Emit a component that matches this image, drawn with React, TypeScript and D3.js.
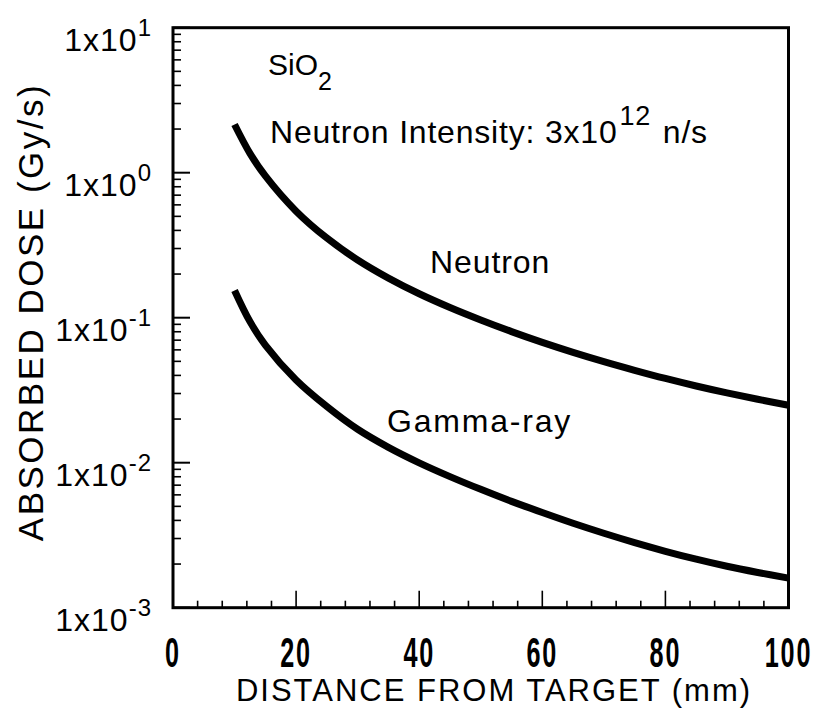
import React from "react";
import * as d3 from "d3";

// Distance from the target (mm)
const neutronDistance = [10, 12.5, 15, 20, 25, 30, 35, 40, 45, 50, 55, 60, 65, 70, 75, 80, 85, 90, 95, 100];
// Neutron absorbed dose rate in SiO2 (Gy/s)
const neutronDose = [2.15, 1.36, 0.95, 0.543, 0.354, 0.25, 0.1875, 0.1462, 0.1175, 0.0964, 0.0802, 0.0676, 0.0577, 0.0498, 0.0434, 0.0381, 0.0338, 0.0303, 0.0274, 0.0249];

const gammaDistance = [10, 12.5, 15, 20, 25, 30, 35, 40, 45, 50, 55, 60, 65, 70, 75, 80, 85, 90, 95, 100];
// Gamma-ray absorbed dose rate in SiO2 (Gy/s)
const gammaDose = [0.154, 0.094, 0.0648, 0.0372, 0.0244, 0.017, 0.01276, 0.00998, 0.00802, 0.00655, 0.00541, 0.00453, 0.00382, 0.00326, 0.00281, 0.00245, 0.00216, 0.00193, 0.00175, 0.0016];

const xTickLabels = [0, 20, 40, 60, 80, 100];
const yDecadeExponents = [1, 0, -1, -2, -3];

const FONT = "'Liberation Sans', Arial, Helvetica, sans-serif";

export default function App() {
  const width = 816;
  const height = 710;
  const left = 173;
  const right = 788.5;
  const top = 27.7;
  const bottom = 607.7;

  const x = d3.scaleLinear().domain([0, 100]).range([left, right]);
  const y = d3.scaleLog().domain([1e-3, 1e1]).range([bottom, top]);

  const line = d3
    .line<[number, number]>()
    .x((d) => x(d[0]))
    .y((d) => y(d[1]))
    .curve(d3.curveCatmullRom.alpha(0.5));

  const neutronPath = line(neutronDistance.map((d, i) => [d, neutronDose[i]]) as [number, number][]) || "";
  const gammaPath = line(gammaDistance.map((d, i) => [d, gammaDose[i]]) as [number, number][]) || "";

  // x ticks every 4 mm, longer at the labelled 20 mm marks
  const xMinor = d3.range(4, 100, 4);
  const xMajor = [20, 40, 60, 80];

  // y ticks: decades and 2..9 in between
  const yMinor: number[] = [];
  for (let e = -3; e < 1; e++) {
    for (let m = 2; m <= 9; m++) yMinor.push(m * Math.pow(10, e));
  }

  return (
    <svg
      width={width}
      height={height}
      style={{ position: "absolute", left: 0, top: 0, background: "#fff" }}
      fontFamily={FONT}
    >
      <rect x={0} y={0} width={width} height={height} fill="#fff" />

      {/* y ticks (inward) */}
      {yMinor.map((v, i) => (
        <line key={"ym" + i} x1={left} x2={left + 8} y1={y(v)} y2={y(v)} stroke="#000" strokeWidth={1.6} />
      ))}
      {yDecadeExponents.map((e) => (
        <line key={"yM" + e} x1={left} x2={left + 17} y1={y(Math.pow(10, e))} y2={y(Math.pow(10, e))} stroke="#000" strokeWidth={2} />
      ))}

      {/* x ticks (inward) */}
      {xMinor.map((v) => (
        <line
          key={"xm" + v}
          x1={x(v)}
          x2={x(v)}
          y1={bottom}
          y2={bottom - (xMajor.includes(v) ? 17 : 7)}
          stroke="#000"
          strokeWidth={1.6}
        />
      ))}

      {/* frame */}
      <rect x={left} y={top} width={right - left} height={bottom - top} fill="none" stroke="#000" strokeWidth={3} />

      {/* curves */}
      <path d={neutronPath} fill="none" stroke="#000" strokeWidth={7} />
      <path d={gammaPath} fill="none" stroke="#000" strokeWidth={7} />

      {/* y tick labels */}
      {yDecadeExponents.map((e) => (
        <text
          key={"yl" + e}
          x={152}
          y={y(Math.pow(10, e)) + 23}
          textAnchor="end"
          fontSize={32}
          letterSpacing={1}
          fill="#000"
        >
          1x10
          <tspan fontSize={24} dy={-15}>
            {String(e)}
          </tspan>
        </text>
      ))}

      {/* x tick labels */}
      {xTickLabels.map((v) => (
        <text
          key={"xl" + v}
          transform={`translate(${x(v)},667) scale(0.6,1)`}
          textAnchor="middle"
          fontSize={42}
          fontWeight="bold"
          letterSpacing={3}
          fill="#000"
        >
          {v}
        </text>
      ))}

      {/* axis titles */}
      <text x={494} y={701} textAnchor="middle" fontSize={31} letterSpacing={2} fill="#000">
        DISTANCE FROM TARGET (mm)
      </text>
      <text
        transform="translate(43,312) rotate(-90)"
        textAnchor="middle"
        fontSize={35}
        letterSpacing={2.5}
        fill="#000"
      >
        ABSORBED DOSE (Gy/s)
      </text>

      {/* annotations */}
      <text x={268} y={75} fontSize={30} fill="#000">
        SiO
        <tspan fontSize={25} dy={15}>2</tspan>
      </text>
      <text x={270} y={143} fontSize={32} letterSpacing={0.8} fill="#000">
        Neutron Intensity: 3x10
        <tspan fontSize={27} dx={2} dy={-18}>12</tspan>
        <tspan dx={2} dy={18}> n/s</tspan>
      </text>
      <text x={430} y={273} fontSize={32} letterSpacing={0.9} fill="#000">
        Neutron
      </text>
      <text x={387} y={432} fontSize={32} letterSpacing={1.8} fill="#000">
        Gamma-ray
      </text>
    </svg>
  );
}
